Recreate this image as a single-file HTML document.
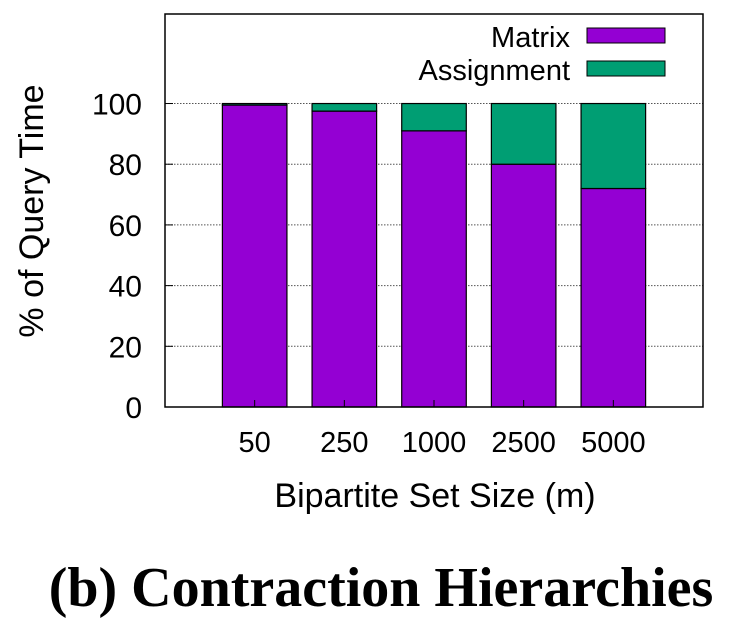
<!DOCTYPE html>
<html><head><meta charset="utf-8"><style>
body{margin:0;background:#fff;width:734px;height:632px;overflow:hidden}
svg{font-family:"Liberation Sans",sans-serif}
</style></head><body>
<svg id="chart" width="734" height="632">
<g id="grid"></g><g id="bars"></g><g id="axes"></g>
<text x="43" y="211" font-size="34" text-anchor="middle" transform="rotate(-90 43 211)">% of Query Time</text>
<text x="435" y="507" font-size="34" text-anchor="middle">Bipartite Set Size (m)</text>
<text x="381" y="606" font-size="56" font-weight="bold" text-anchor="middle" font-family="Liberation Serif,serif">(b) Contraction Hierarchies</text>
<g>
<text x="570" y="47" font-size="29" text-anchor="end">Matrix</text>
<rect x="587" y="28" width="78" height="15" fill="#9400d3" stroke="#000"/>
<text x="570" y="80" font-size="29" text-anchor="end">Assignment</text>
<rect x="587" y="61" width="78" height="15" fill="#009e73" stroke="#000"/>
</g>
</svg>
<script>
const categories=["50","250","1000","2500","5000"];
const matrixValues=[99.5,97.5,91,80,72];
const assignmentValues=[0.5,2.5,9,20,28];
const yTicks=[0,20,40,60,80,100];
const L=165,R=703,T=14,B=407,yMax=129.5,xMax=6;
const xs=v=>L+(R-L)*v/xMax, ys=v=>B-(B-T)*v/yMax;
const NS="http://www.w3.org/2000/svg";
function mk(tag,attrs,parent){const e=document.createElementNS(NS,tag);for(const k in attrs)e.setAttribute(k,attrs[k]);parent.appendChild(e);return e;}
const grid=document.getElementById('grid'),bars=document.getElementById('bars'),axes=document.getElementById('axes');
yTicks.forEach(t=>{
  if(t>0){const g=mk('line',{x1:L,x2:R,y1:ys(t),y2:ys(t),stroke:'#555','stroke-width':1,'stroke-dasharray':'1.5,1.5'},grid);
  
  }
  const tk=mk('line',{x1:L,x2:L+8,y1:ys(t),y2:ys(t),stroke:'#000'},axes);
  
  
  const lb=mk('text',{x:L-23,y:ys(t)+11,'font-size':30,'text-anchor':'end'},axes);lb.textContent=t;
  
  
});
const bw=(R-L)/xMax*0.72;
categories.forEach((c,i)=>{
  const cx=xs(i+1);
  const m=mk('rect',{x:cx-bw/2,y:ys(matrixValues[i]),width:bw,height:ys(0)-ys(matrixValues[i]),fill:'#9400d3',stroke:'#000','stroke-width':1.2},bars);
  
  
  const top=matrixValues[i]+assignmentValues[i];
  const a=mk('rect',{x:cx-bw/2,y:ys(top),width:bw,height:ys(matrixValues[i])-ys(top),fill:'#009e73',stroke:'#000','stroke-width':1.2},bars);
  
  
  const tk=mk('line',{x1:cx,x2:cx,y1:B,y2:B-7,stroke:'#000'},axes);
  
  
  const lb=mk('text',{x:cx,y:452,'font-size':29,'text-anchor':'middle'},axes);lb.textContent=c;
  
  
});
const fr=mk('rect',{x:L,y:T,width:R-L,height:B-T,fill:'none',stroke:'#000','stroke-width':1.5},axes);


</script>
</body></html>
